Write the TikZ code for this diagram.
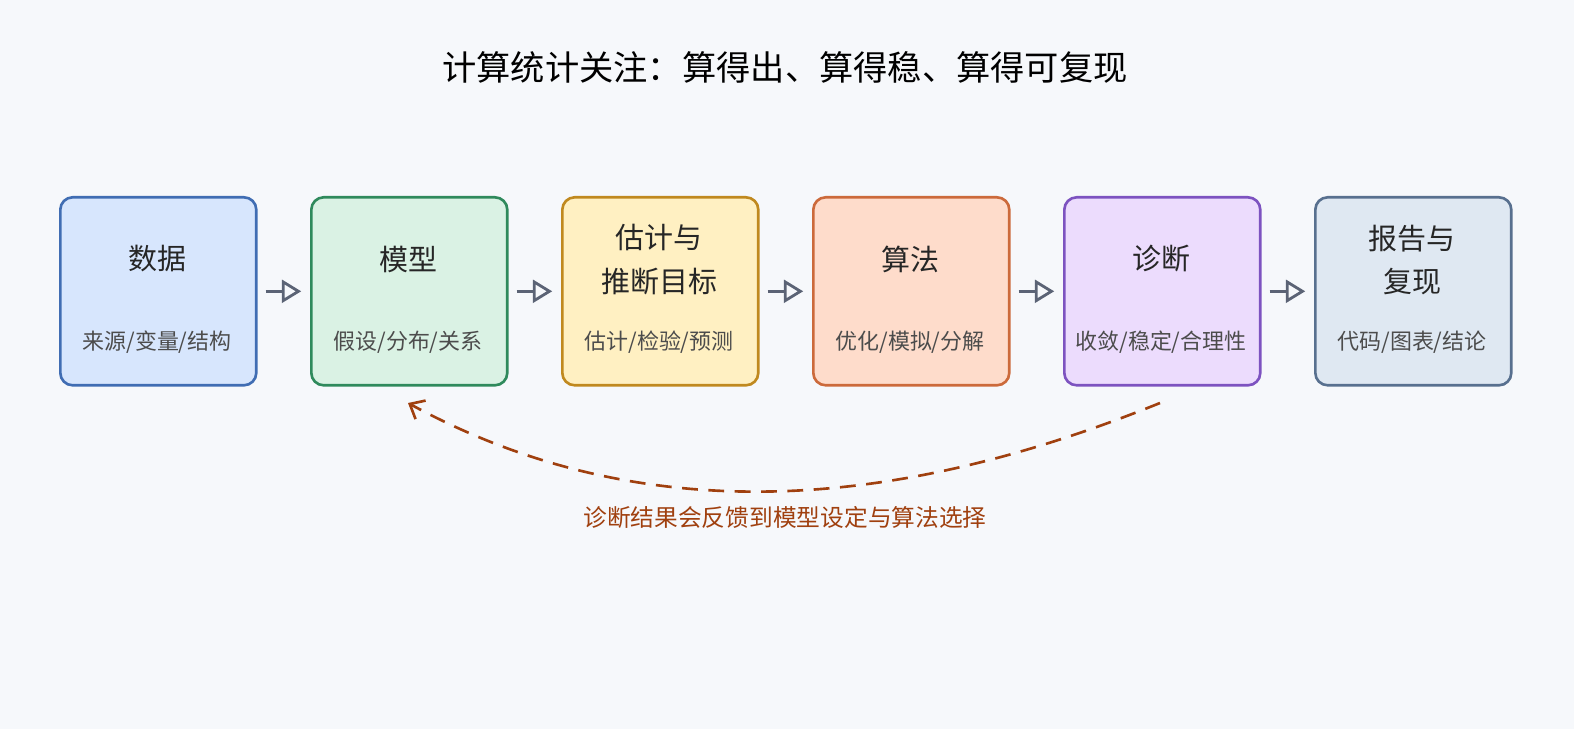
\documentclass[tikz,border=0pt]{standalone}
\usepackage{fontspec}
\setmainfont{Noto Sans CJK SC}
\usetikzlibrary{arrows.meta,positioning}
\definecolor{bgc}{HTML}{F6F8FB}
\definecolor{arrc}{HTML}{5B6375}
\definecolor{fbc}{HTML}{A0400F}
\definecolor{fa}{HTML}{D7E6FD}\definecolor{da}{HTML}{406DB3}
\definecolor{fb}{HTML}{DAF2E4}\definecolor{db}{HTML}{2F8A5C}
\definecolor{fc}{HTML}{FFF0C2}\definecolor{dc}{HTML}{C0891F}
\definecolor{fd}{HTML}{FEDCCB}\definecolor{dd}{HTML}{CC6A3B}
\definecolor{fe}{HTML}{ECDCFD}\definecolor{de}{HTML}{7D53C0}
\definecolor{ff}{HTML}{DFE8F2}\definecolor{df}{HTML}{58708F}
\tikzset{
  stagebox/.style={draw=#1, line width=1.5pt, rounded corners=7pt, minimum width=3.92cm, minimum height=3.76cm, anchor=north west},
  stagetitle/.style={font=\fontsize{16.5}{25}\selectfont, text=black!85, align=center},
  stagesub/.style={font=\fontsize{12.5}{14}\selectfont, text=black!70},
  flow/.style={arrc, line width=1.8pt, -{Triangle[open, length=11pt, width=13pt, line width=1.6pt]}, shorten <=4.5pt, shorten >=5pt}
}
\begin{document}
\begin{tikzpicture}[x=0.02cm, y=-0.02cm]
    \fill [bgc] (0,0) rectangle (1574,729);
    \node (title) at (785,67) {\fontsize{19.5}{24}\selectfont 计算统计关注：算得出、算得稳、算得可复现};
    % stages
    \foreach \n/\x/\c/\t/\s/\ty in {s1/59/a/数据/{来源/变量/结构}/259,
                                    s2/310/b/模型/{假设/分布/关系}/259,
                                    s3/561/c/{估计与\\推断目标}/{估计/检验/预测}/260,
                                    s4/812/d/算法/{优化/模拟/分解}/259,
                                    s5/1063/e/诊断/{收敛/稳定/合理性}/259,
                                    s6/1314/f/{报告与\\复现}/{代码/图表/结论}/260}{
        \node [stagebox=d\c, fill=f\c] (\n) at (\x,196) {};
        \node [stagetitle] (\n t) at (\x+98,\ty) {\t};
        \node [stagesub] (\n s) at (\x+98,342) {\s};
    }
    \foreach \a/\b in {s1/s2,s2/s3,s3/s4,s4/s5,s5/s6}
        \draw [flow] (\a.east) -- (\b.west);
    % feedback
    \coordinate (fbstart) at (1160,403);
    \coordinate (fbend) at (408,403);
    \draw [fbc, line width=1.5pt, dash pattern=on 9pt off 6pt, -{Straight Barb[length=7pt, width=12pt]}]
        (fbstart) .. controls (920,500) and (660,540) .. (fbend);
    \node [fbc, font=\fontsize{13.5}{16}\selectfont] (fbtext) at (785,517) {诊断结果会反馈到模型设定与算法选择};
\end{tikzpicture}
\end{document}
